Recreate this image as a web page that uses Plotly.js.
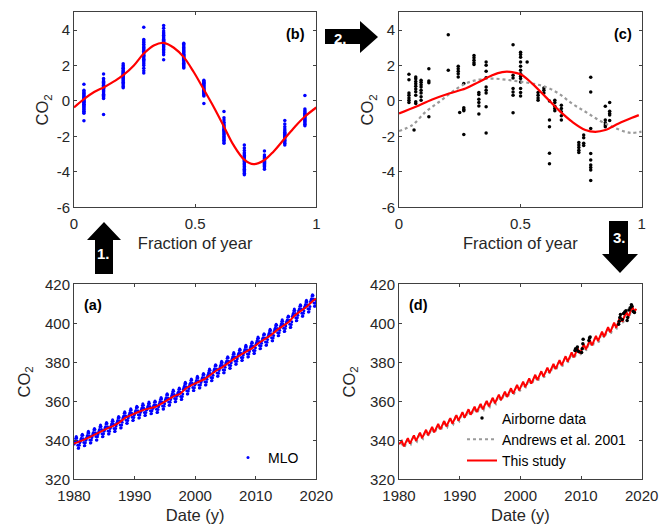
<!DOCTYPE html>
<html><head><meta charset="utf-8">
<script src="https://cdn.plot.ly/plotly-3.0.1.min.js"></script>
<style>html,body{margin:0;padding:0;background:#fff}#chart{width:661px;height:527px}</style>
</head><body><div id="chart"></div>
<script>
// ================= DATA =================
// Panel (b): MLO detrended residuals by month
const monthFrac = [0.041,0.122,0.203,0.288,0.370,0.453,0.536,0.619,0.703,0.786,0.870,0.953];
const resJan = [0.94,0.6,0.52,0.45,0.4,0.33,0.28,0.22,0.18,0.12,0.08,0.03,-0.02,-0.08,-0.12,-0.18,-0.22,-0.27,-0.33,-0.38,-0.45,-0.5,-0.58,-0.62,-0.7,-1.12];
const resFeb = [1.52,1.26,1.18,1.1,1.05,0.98,0.92,0.88,0.82,0.78,0.72,0.68,0.62,0.58,0.52,0.45,0.38,0.32,0.25,0.18,0.14,-0.76];
const resMar = [2.1,2.0,1.92,1.85,1.8,1.72,1.66,1.6,1.55,1.5,1.45,1.4,1.35,1.3,1.25,1.18,1.12,1.05,0.98,0.9,0.82,0.75];
const resApr = [4.16,3.47,3.38,3.3,3.2,3.1,3.02,2.95,2.88,2.8,2.72,2.65,2.58,2.5,2.42,2.35,2.28,2.2,2.1,2.0,1.85,1.7,1.58];
const resMay = [4.25,4.1,3.95,3.85,3.78,3.7,3.62,3.55,3.48,3.42,3.36,3.3,3.24,3.18,3.12,3.05,2.98,2.9,2.82,2.72,2.6,2.32];
const resJun = [3.26,3.18,3.1,3.02,2.95,2.88,2.82,2.76,2.7,2.64,2.58,2.52,2.46,2.4,2.34,2.28,2.2,2.12,2.05,1.98,1.92,1.86];
const resJul = [1.16,1.1,1.05,1.0,0.95,0.9,0.85,0.8,0.75,0.7,0.65,0.6,0.55,0.5,0.45,0.4,0.34,0.28,-0.15];
const resAug = [-0.6,-0.95,-1.08,-1.2,-1.3,-1.38,-1.46,-1.52,-1.6,-1.66,-1.72,-1.8,-1.86,-1.92,-2.0,-2.08,-2.15,-2.22,-2.3,-2.39];
const resSep = [-2.48,-2.65,-2.8,-2.92,-3.0,-3.08,-3.15,-3.22,-3.3,-3.36,-3.42,-3.5,-3.56,-3.62,-3.7,-3.78,-3.85,-3.92,-4.0,-4.08,-4.17];
const resOct = [-2.82,-3.05,-3.15,-3.22,-3.28,-3.35,-3.4,-3.46,-3.52,-3.58,-3.64,-3.7,-3.78,-3.85];
const resNov = [-1.1,-1.3,-1.45,-1.58,-1.68,-1.76,-1.84,-1.9,-1.96,-2.02,-2.08,-2.15,-2.22,-2.3,-2.38,-2.48];
const resDec = [0.3,-0.46,-0.55,-0.62,-0.7,-0.76,-0.82,-0.88,-0.94,-1.0,-1.06,-1.12,-1.18,-1.25,-1.32,-1.4];
// Panel (b): fitted seasonal curve
const fitFrac = [0,0.041,0.083,0.126,0.165,0.203,0.247,0.287,0.329,0.370,0.412,0.453,0.494,0.535,0.576,0.619,0.658,0.704,0.741,0.786,0.823,0.870,0.912,0.952,1.0];
const fitRes  = [-0.37,0.1,0.5,0.79,1.1,1.45,2.0,2.66,3.13,3.28,3.0,2.47,1.63,0.66,-0.33,-1.45,-2.48,-3.33,-3.57,-3.33,-2.86,-2.11,-1.45,-0.89,-0.37];

// Panel (c): airborne residuals grouped by fraction of year
const cFrac = [0.041,0.062,0.069,0.091,0.123,0.203,0.244,0.250,0.267,0.309,0.329,0.359,0.470,0.501,0.528,0.573,0.597,0.620,0.642,0.669,0.741,0.761,0.790,0.850,0.868];
const cGroups = [
 [1.5,1.2,0.45,0.32,0.17,0.04,-0.09],
 [-1.64],
 [1.35,1.25,1.1,0.97,0.83,0.68,0.52,0.32,-0.05,-0.15],
 [1.16,1.05,0.92,0.79,0.6,0.45,0.23,0.04],
 [1.82,1.13,1.03,-0.89],
 [3.73,1.73],
 [1.95,1.82,1.67,1.54,1.35],
 [-0.65],
 [0.98,-0.39,-0.48,-0.56,-1.89],
 [2.57,2.44,2.29,2.16,2.06],
 [0.47,0.36,0.1,-0.09,-0.28,-0.74],
 [2.19,2.01,1.67,1.31,0.79,0.6,0.45,-0.33,-1.81],
 [3.17,1.45,1.3,0.7,0.51,0.32,-0.67],
 [2.75,2.62,2.47,2.19,1.95,1.73,1.54,1.39,1.26,1.07,0.7,0.47,0.28],
 [2.19],
 [0.47,0.32,0.17,0.04],
 [0.73,0.6,0.45],
 [-0.01,-1.08,-1.45,-2.95,-3.55],
 [0.04,-0.09,-0.3,-0.43,-0.56],
 [-0.24,-0.43,-0.61,-0.84,-1.08],
 [-2.35,-2.48,-2.63,-2.78,-2.91],
 [-1.92,-2.07,-2.39,-2.52],
 [1.33,0.51,-1.55,-2.97,-3.33,-3.61,-3.76,-3.89,-4.49],
 [-0.3,-1.08,-1.23,-1.36,-1.45],
 [-0.09,-0.58,-0.71,-0.8,-1.1]
];
// Panel (c): this study seasonal fit
const cFitFrac = [0,0.069,0.137,0.206,0.274,0.329,0.384,0.425,0.466,0.501,0.549,0.604,0.658,0.713,0.768,0.809,0.850,0.905,0.960,0.988];
const cFitRes  = [-0.71,-0.33,0.08,0.42,0.70,1.07,1.45,1.63,1.63,1.50,0.98,0.23,-0.52,-1.17,-1.64,-1.74,-1.64,-1.27,-0.95,-0.80];
// Panel (c): Andrews et al. 2001 seasonal cycle
const andFrac = [0,0.055,0.110,0.165,0.219,0.274,0.329,0.384,0.439,0.494,0.549,0.604,0.658,0.713,0.768,0.823,0.878,0.933,0.960,1.0];
const andRes  = [-1.7,-1.36,-0.61,-0.06,0.51,0.98,1.2,1.26,1.2,1.1,0.98,0.79,0.42,-0.15,-0.61,-1.08,-1.45,-1.74,-1.8,-1.73];

// Panel (a): MLO monthly means
const mloYears = [1980,1981,1982,1983,1984,1985,1986,1987,1988,1989,1990,1991,1992,1993,1994,1995,1996,1997,1998,1999,
                  2000,2001,2002,2003,2004,2005,2006,2007,2008,2009,2010,2011,2012,2013,2014,2015,2016,2017,2018,2019];
const mlo1980s = [
 338.1,339.0,339.8,341.0,341.9,341.2,339.6,337.5,335.9,336.0,337.4,338.7,
 339.4,340.3,341.0,342.4,343.1,342.6,340.8,338.9,337.2,337.3,338.7,340.0,
 340.8,341.6,342.5,343.7,344.6,343.9,342.3,340.2,338.6,338.7,340.1,341.5,
 342.4,343.3,344.0,345.4,346.1,345.6,343.9,341.9,340.2,340.2,341.8,343.0,
 344.0,344.8,345.6,347.0,347.8,347.1,345.5,343.4,341.8,341.9,343.3,344.6,
 345.4,346.3,347.0,348.4,349.1,348.6,346.9,344.8,343.2,343.3,344.7,346.1,
 346.7,347.5,348.4,349.6,350.5,349.8,348.2,346.1,344.5,344.6,346.0,347.3,
 348.5,349.3,350.2,351.4,352.2,351.7,350.0,347.9,346.3,346.4,347.8,349.2,
 350.9,351.8,352.5,353.9,354.6,354.0,352.4,350.3,348.7,348.8,350.2,351.5,
 352.4,353.2,354.1,355.3,356.2,355.5,353.9,351.8,350.2,350.3,351.7,353.0];
const mlo1990s = [
 353.7,354.6,355.3,356.7,357.4,356.9,355.2,353.1,351.5,351.6,353.0,354.3,
 354.9,355.8,356.6,357.8,358.7,358.0,356.4,354.3,352.7,352.8,354.2,355.6,
 355.8,356.6,357.5,358.7,359.6,358.9,357.3,355.2,353.6,353.7,355.1,356.4,
 356.5,357.4,358.1,359.5,360.2,359.7,358.0,355.9,354.3,354.4,355.8,357.2,
 358.2,359.0,359.9,361.1,362.0,361.3,359.7,357.6,356.0,356.1,357.5,358.8,
 360.2,361.1,361.8,363.2,363.9,363.4,361.7,359.6,358.0,358.1,359.5,360.9,
 362.0,362.8,363.7,364.9,365.8,365.1,363.5,361.4,359.8,359.9,361.3,362.6,
 363.1,364.0,364.7,366.1,366.8,366.3,364.6,362.5,360.9,361.0,362.4,363.8,
 366.0,366.8,367.7,368.9,369.8,369.1,367.5,365.4,363.8,363.9,365.3,366.6,
 367.7,368.6,369.3,370.7,371.4,370.9,369.2,367.1,365.5,365.6,367.0,368.4];
const mlo2000s = [
 369.0,369.8,370.7,371.9,372.8,372.1,370.5,368.4,366.8,366.9,368.3,369.6,
 370.6,371.5,372.2,373.6,374.3,373.8,372.1,370.0,368.4,368.5,369.9,371.3,
 372.8,373.6,374.5,375.7,376.6,375.9,374.3,372.2,370.6,370.7,372.1,373.4,
 375.1,376.0,376.7,378.1,378.8,378.3,376.6,374.5,372.9,373.0,374.4,375.8,
 376.8,377.6,378.5,379.7,380.6,379.9,378.3,376.2,374.6,374.7,376.1,377.4,
 379.1,380.0,380.7,382.1,382.8,382.3,380.6,378.5,376.9,377.0,378.4,379.8,
 381.2,382.0,382.9,384.1,385.0,384.3,382.7,380.6,379.0,379.1,380.5,381.8,
 383.1,384.0,384.7,386.1,386.8,386.3,384.6,382.5,380.9,381.0,382.4,383.8,
 384.9,385.7,386.6,387.8,388.7,388.0,386.4,384.3,382.7,382.8,384.2,385.5,
 386.7,387.6,388.3,389.7,390.4,389.9,388.2,386.1,384.5,384.6,386.0,387.4];
const mlo2010s = [
 389.2,390.0,390.9,392.1,393.0,392.3,390.7,388.6,387.0,387.1,388.5,389.8,
 391.0,391.9,392.6,394.0,394.7,394.2,392.5,390.4,388.8,388.9,390.3,391.7,
 393.2,394.0,394.9,396.1,397.0,396.3,394.7,392.6,391.0,391.1,392.5,393.8,
 395.8,396.7,397.4,398.8,399.5,399.0,397.3,395.2,393.6,393.7,395.1,396.5,
 398.0,398.8,399.7,400.9,401.8,401.1,399.5,397.4,395.8,395.9,397.3,398.6,
 400.1,401.0,401.7,403.1,403.8,403.3,401.6,399.5,397.9,398.0,399.4,400.8,
 403.5,404.3,405.2,406.4,407.3,406.6,405.0,402.9,401.3,401.4,402.8,404.1,
 405.8,406.7,407.4,408.8,409.5,409.0,407.3,405.2,403.6,403.7,405.1,406.5,
 408.0,408.8,409.7,410.9,411.8,411.1,409.5,407.4,405.8,405.9,407.3,408.6,
 411.0,411.9,412.6,414.0,414.7,414.2,412.5,410.4,408.8,408.9,410.3,411.7];
// Panel (a): deseasonalised trend (start, annual values, end)
const trendDates = [1980.0,1980.5,1981.5,1982.5,1983.5,1984.5,1985.5,1986.5,1987.5,1988.5,1989.5,1990.5,1991.5,1992.5,1993.5,1994.5,1995.5,1996.5,1997.5,1998.5,1999.5,
                    2000.5,2001.5,2002.5,2003.5,2004.5,2005.5,2006.5,2007.5,2008.5,2009.5,2010.5,2011.5,2012.5,2013.5,2014.5,2015.5,2016.5,2017.5,2018.5,2019.5,2020.0];
const mloTrend = [338.3,338.8,340.1,341.5,343.1,344.7,346.1,347.4,349.2,351.6,353.1,354.4,355.6,356.5,357.2,358.9,360.9,362.7,363.8,366.7,368.4,
                  369.7,371.3,373.5,375.8,377.5,379.8,381.9,383.8,385.6,387.4,389.9,391.7,393.9,396.5,398.7,400.8,404.2,406.5,408.7,411.7,412.6];

// Panel (d): this study (seasonal maxima / minima each year), 1980-2018
const studyPeakPhase = 0.46, studyTroughPhase = 0.81;
const studyStart = [1980.0, 338.0], studyEnd = [2019.1, 407.5];
const studyPeak = [339.7,341.1,342.5,343.9,345.4,346.9,348.4,349.9,351.4,352.9,354.4,355.9,357.3,358.7,360.2,361.8,363.4,365.0,366.7,368.4,
                   370.1,371.8,373.6,375.4,377.3,379.2,381.1,383.1,385.1,387.1,389.2,391.3,393.5,395.7,398.0,400.3,403.5,406.0,408.5];
const studyTrough = [336.9,338.3,339.7,341.1,342.6,344.1,345.6,347.1,348.6,350.1,351.6,353.1,354.5,355.9,357.4,359.0,360.6,362.2,363.9,365.6,
                     367.3,369.1,370.9,372.7,374.6,376.5,378.4,380.4,382.5,384.5,386.6,388.7,390.9,393.1,395.4,397.7,400.9,403.4,405.9];
// Panel (d): Andrews et al. 2001 (seasonal maxima / minima each year)
const andPeakPhase = 0.30, andTroughPhase = 0.95;
const andPeak = [338.6,340.0,341.4,342.8,344.3,345.8,347.3,348.8,350.3,351.8,353.3,354.8,356.2,357.6,359.1,360.7,362.3,363.9,365.6,367.3,
                 369.0,370.7,372.5,374.3,376.2,378.1,380.0,382.0,384.0,386.0,388.1,390.2,392.4,394.6,396.9,399.2,402.4,404.9,407.4];
const andTrough = [336.5,337.9,339.3,340.7,342.2,343.7,345.2,346.7,348.2,349.7,351.2,352.7,354.1,355.5,357.0,358.6,360.2,361.8,363.5,365.2,
                   366.9,368.6,370.4,372.2,374.1,376.0,377.9,379.9,381.9,383.9,386.0,388.1,390.3,392.5,394.8,397.1,400.3,402.8,405.3];
// Panel (d): airborne data
const airDate = [2009.0,2009.1,2009.3,2009.4,2009.6,2010.1,2010.2,2010.3,2010.35,2011.3,2011.4,2011.5,
                 2016.2,2016.3,2016.4,2016.5,2016.8,2017.0,2017.2,2017.4,2017.6,2017.7,2017.9,2018.1,2018.3,2018.4,2018.6,2018.8];
const airCO2  = [386.0,387.0,386.5,387.8,385.5,385.0,387.0,389.5,391.8,391.2,392.5,393.0,
                 399.5,401.0,403.0,404.5,402.0,405.0,405.8,406.5,401.5,403.0,406.8,408.0,409.5,408.8,406.0,405.5];

// Tick labels
const resTicks = [-6,-4,-2,0,2,4];
const resTickText = ['-6','-4','-2','0','2','4'];
const fracTicks = [0,0.5,1];
const fracTickText = ['0','0.5','1'];
const co2Ticks = [320,340,360,380,400,420];
const dateTicks = [1980,1990,2000,2010,2020];

// ================= BUILD =================
const resMonths = [resJan,resFeb,resMar,resApr,resMay,resJun,resJul,resAug,resSep,resOct,resNov,resDec];
const bx=[], by=[];
resMonths.forEach((arr,m)=>arr.forEach(v=>{bx.push(monthFrac[m]); by.push(v);}));
const cx=[], cy=[];
cGroups.forEach((arr,i)=>arr.forEach(v=>{cx.push(cFrac[i]); cy.push(v);}));
const mloAll = mlo1980s.concat(mlo1990s, mlo2000s, mlo2010s);
const ax=[], ay=[];
mloYears.forEach((yr,i)=>{ for(let m=0;m<12;m++){ ax.push(yr+monthFrac[m]); ay.push(mloAll[i*12+m]); } });
const sx=[studyStart[0]], sy=[studyStart[1]];
studyPeak.forEach((v,i)=>{ sx.push(mloYears[i]+studyPeakPhase, mloYears[i]+studyTroughPhase); sy.push(v, studyTrough[i]); });
sx.push(studyEnd[0]); sy.push(studyEnd[1]);
const gx=[], gy=[];
andPeak.forEach((v,i)=>{ gx.push(mloYears[i]+andPeakPhase, mloYears[i]+andTroughPhase); gy.push(v, andTrough[i]); });

const RED='#ff0000', BLUE='#0000ff', GREY='#9a9a9a';
const traces = [
 {x:bx,y:by,xaxis:'x',yaxis:'y',mode:'markers',type:'scatter',marker:{color:BLUE,size:3.5},showlegend:false},
 {x:fitFrac,y:fitRes,xaxis:'x',yaxis:'y',mode:'lines',line:{color:RED,width:2.2,shape:'spline'},showlegend:false},
 {x:cx,y:cy,xaxis:'x2',yaxis:'y2',mode:'markers',marker:{color:'#000',size:3.5},showlegend:false},
 {x:andFrac,y:andRes,xaxis:'x2',yaxis:'y2',mode:'lines',line:{color:GREY,width:2.2,dash:'dot',shape:'spline'},showlegend:false},
 {x:cFitFrac,y:cFitRes,xaxis:'x2',yaxis:'y2',mode:'lines',line:{color:RED,width:2.2,shape:'spline'},showlegend:false},
 {x:ax,y:ay,xaxis:'x3',yaxis:'y3',mode:'markers',marker:{color:BLUE,size:3},name:'MLO',legend:'legend'},
 {x:trendDates,y:mloTrend,xaxis:'x3',yaxis:'y3',mode:'lines',line:{color:RED,width:2},showlegend:false},
 {x:gx,y:gy,xaxis:'x4',yaxis:'y4',mode:'lines',line:{color:GREY,width:2,dash:'dot'},name:'Andrews et al. 2001',legend:'legend2',legendrank:2},
 {x:sx,y:sy,xaxis:'x4',yaxis:'y4',mode:'lines',line:{color:RED,width:2},name:'This study',legend:'legend2',legendrank:3},
 {x:airDate,y:airCO2,xaxis:'x4',yaxis:'y4',mode:'markers',marker:{color:'#000',size:3.5},name:'Airborne data',legend:'legend2',legendrank:1}
];

const W=661,H=527;
const FONT='"Liberation Sans", Arial, Helvetica, sans-serif';
const TXT='#262626', AX='#404040';
const base = {showline:true,mirror:'allticks',ticks:'inside',ticklen:3,tickwidth:1,tickcolor:AX,linecolor:AX,linewidth:1,
  showgrid:false,zeroline:false,tickfont:{family:FONT,size:15,color:TXT},fixedrange:true};
function xa(dom,range,tv,tt,title){return Object.assign({},base,{domain:dom,range:range,tickmode:'array',tickvals:tv,ticktext:tt,ticklabelstandoff:3,
  title:{text:title,standoff:6,font:{family:FONT,size:16.5,color:TXT}}});}
function ya(dom,range,tv,tt,anchor,so){return Object.assign({},base,{domain:dom,range:range,tickmode:'array',tickvals:tv,ticktext:tt,anchor:anchor,
  title:{text:'CO<sub>2</sub>',standoff:so,font:{family:FONT,size:16.5,color:TXT}}});}
const dL=[74/W,316.3/W], dR=[399/W,641.7/W];
const dT=[1-207.3/H,1-12.3/H], dB=[1-479.3/H,1-284.3/H];
const px=x=>x/W, py=y=>1-y/H;
function poly(pts){return 'M'+pts.map(p=>px(p[0])+','+py(p[1])).join(' L')+' Z';}
const arrowStyle={type:'path',xref:'paper',yref:'paper',fillcolor:'#000',line:{width:0}};
const shapes=[
 Object.assign({path:poly([[104,222],[121,240],[113,240],[113,274],[95,274],[95,240],[87,240]])},arrowStyle),
 Object.assign({path:poly([[325,29],[360,29],[360,21],[378,37],[360,53],[360,44],[325,44]])},arrowStyle),
 Object.assign({path:poly([[609,221],[628,221],[628,254],[638,254],[620,273],[602,254],[609,254]])},arrowStyle)
];
function lab(t,x,y,font){return {text:t,xref:'paper',yref:'paper',x:px(x),y:py(y),xanchor:'center',yanchor:'middle',showarrow:false,
  font:font||{family:FONT,size:14.5,color:'#000'}};}
const WF={family:FONT,size:15,color:'#fff'};
const annotations=[
 lab('<b>(b)</b>',295,34), lab('<b>(c)</b>',622.5,34), lab('<b>(a)</b>',92.5,305), lab('<b>(d)</b>',418,305),
 lab('<b>1.</b>',103.5,254,WF), lab('<b>2.</b>',340,38,WF), lab('<b>3.</b>',619,237.5,WF)
];
const layout={width:W,height:H,margin:{l:0,r:0,t:0,b:0},paper_bgcolor:'#fff',plot_bgcolor:'#fff',
 font:{family:FONT,color:TXT},
 xaxis:xa(dL,[0,1],fracTicks,fracTickText,'Fraction of year'), yaxis:ya(dT,[-6,5],resTicks,resTickText,'x',3),
 xaxis2:xa(dR,[0,1],fracTicks,fracTickText,'Fraction of year'), yaxis2:ya(dT,[-6,5],resTicks,resTickText,'x2',3),
 xaxis3:xa(dL,[1980,2020],dateTicks,dateTicks.map(String),'Date (y)'), yaxis3:ya(dB,[320,420],co2Ticks,co2Ticks.map(String),'x3',10),
 xaxis4:xa(dR,[1980,2020],dateTicks,dateTicks.map(String),'Date (y)'), yaxis4:ya(dB,[320,420],co2Ticks,co2Ticks.map(String),'x4',10),
 legend:{x:(268-40)/W,y:py(458),xanchor:'left',yanchor:'middle',bgcolor:'rgba(0,0,0,0)',font:{family:FONT,size:14,color:'#000'}},
 legend2:{x:(502-40)/W,y:py(439.5),xanchor:'left',yanchor:'middle',bgcolor:'rgba(0,0,0,0)',tracegroupgap:0,font:{family:FONT,size:14,color:'#000'}},
 shapes:shapes, annotations:annotations
};
layout.xaxis.anchor='y'; layout.xaxis2.anchor='y2'; layout.xaxis3.anchor='y3'; layout.xaxis4.anchor='y4';
Plotly.newPlot('chart',traces,layout,{staticPlot:true,displayModeBar:false});
</script></body></html>
